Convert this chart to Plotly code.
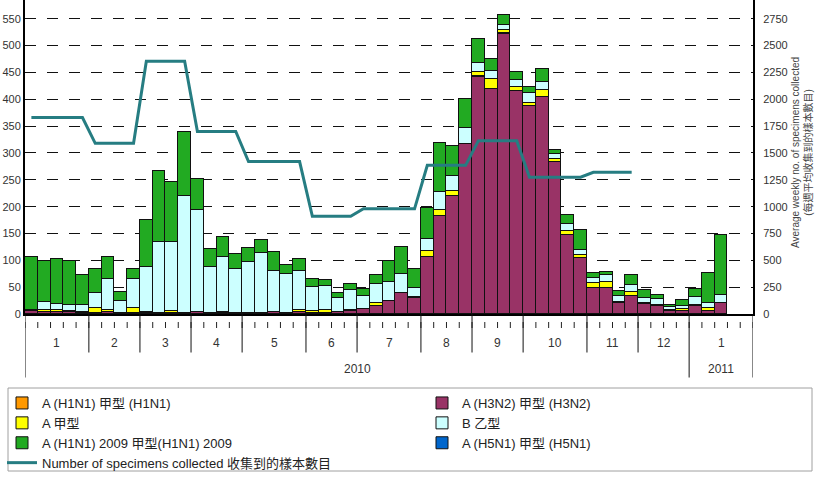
import plotly.graph_objects as go

# ---------------- data ----------------
weeks = list(range(1, 56))  # week slots with data (2010 wk1 .. 2011 wk3)

h3n2 = [5, 3, 3, 3, 2, 2, 3, 2, 2, 1, 1, 1, 1, 3, 2, 1, 2, 2, 2, 3, 1, 3, 2, 2, 3, 6, 10,
        14, 25, 40, 29, 107, 182, 219, 316, 442, 419, 521, 416, 388, 404, 284, 148, 104,
        48, 48, 20, 33, 19, 15, 5, 5, 14, 6, 20]
h1n1 = [0, 0, 0, 0, 0, 0, 0, 0, 0, 0, 0, 0, 0, 0, 0, 0, 0, 0, 0, 0, 0, 0, 0, 0, 0, 0, 0,
        0, 0, 0, 0, 0, 1, 0, 0, 1, 0, 2, 0, 0, 1, 0, 0, 0, 0, 1, 0, 1, 0, 0, 0, 0, 0, 0, 0]
a_unsub = [2, 5, 4, 3, 2, 9, 4, 0, 9, 2, 1, 4, 0, 0, 0, 2, 0, 0, 0, 0, 0, 5, 3, 6, 1, 1, 0,
           6, 0, 0, 2, 11, 10, 11, 1, 7, 18, 6, 6, 6, 13, 5, 7, 6, 10, 10, 3, 7, 2, 1, 2, 4, 2, 5, 1]
flu_b = [0, 15, 11, 10, 13, 29, 59, 23, 54, 85, 133, 129, 219, 190, 85, 104, 82, 95, 111, 78,
         73, 73, 46, 45, 26, 37, 23, 35, 34, 34, 17, 22, 35, 28, 29, 18, 15, 9, 14, 17, 15, 9,
         12, 10, 9, 13, 10, 13, 9, 12, 6, 5, 15, 9, 14]
h1n1_2009 = [99, 75, 85, 82, 55, 43, 40, 16, 18, 88, 132, 112, 120, 58, 34, 36, 27, 26, 24, 34,
             18, 21, 14, 10, 9, 12, 14, 18, 39, 50, 35, 57, 91, 55, 54, 45, 24, 19, 15, 12, 23,
             8, 18, 37, 9, 7, 10, 19, 15, 8, 4, 12, 16, 56, 113]
h5n1 = [0] * 55

# average weekly number of specimens (monthly average repeated for each week, wk 1-48)
spec_weeks = list(range(1, 49))
specimens = [1830, 1830, 1830, 1830, 1830,
             1590, 1590, 1590, 1590,
             2355, 2355, 2355, 2355,
             1700, 1700, 1700, 1700,
             1420, 1420, 1420, 1420, 1420,
             910, 910, 910, 910,
             980, 980, 980, 980, 980,
             1385, 1385, 1385, 1385,
             1615, 1615, 1615, 1615,
             1275, 1275, 1275, 1275, 1275,
             1320, 1320, 1320, 1320]

month_labels = ["1", "2", "3", "4", "5", "6", "7", "8", "9", "10", "11", "12", "1"]
month_weeks = [5, 4, 4, 4, 5, 4, 5, 4, 4, 5, 4, 4, 5]
year_labels = ["2010", "2011"]
year_months = [12, 1]

left_ticks = [0, 50, 100, 150, 200, 250, 300, 350, 400, 450, 500, 550]
right_ticks = [0, 250, 500, 750, 1000, 1250, 1500, 1750, 2000, 2250, 2500, 2750]

# ---------------- styles ----------------
FONT = "Liberation Sans, Arial, Noto Sans CJK TC, sans-serif"
C_H3N2 = "#993366"
C_H1N1 = "#FF9900"
C_A = "#FFFF00"
C_B = "#CCFFFF"
C_2009 = "#22AA22"
C_H5N1 = "#0066CC"
C_LINE = "#267D82"

fig = go.Figure()

def add_bar(y, name, color, legend, rank):
    fig.add_trace(go.Bar(
        x=weeks, y=y, name=name, width=1,
        marker=dict(color=color, line=dict(color="#111111", width=1)),
        legend=legend, legendrank=rank,
        legendgroup=name,
    ))

add_bar(h3n2, "A (H3N2) 甲型 (H3N2)", C_H3N2, "legend2", 1)
add_bar(h1n1, "A (H1N1) 甲型 (H1N1)", C_H1N1, "legend", 1)
add_bar(a_unsub, "A 甲型", C_A, "legend", 2)
add_bar(flu_b, "B 乙型", C_B, "legend2", 2)
add_bar(h1n1_2009, "A (H1N1) 2009 甲型(H1N1) 2009", C_2009, "legend", 3)
add_bar(h5n1, "A (H5N1) 甲型 (H5N1)", C_H5N1, "legend2", 3)

fig.add_trace(go.Scatter(
    x=spec_weeks, y=specimens, yaxis="y2", mode="lines",
    name="Number of specimens collected 收集到的樣本數目",
    line=dict(color=C_LINE, width=3),
    legend="legend", legendrank=4, legendgroup="spec",
))

# ---------------- axis decorations ----------------
H = 314.0  # plot height in px
def py(px_below):
    return -px_below / H

shapes = []
annotations = []
n_slots = sum(month_weeks)
# weekly tick marks
for k in range(n_slots + 1):
    shapes.append(dict(type="line", xref="x", yref="paper", x0=k + 0.5, x1=k + 0.5,
                       y0=py(8), y1=py(14), line=dict(color="#222", width=1)))
# month separators and labels
bounds = [0]
for w in month_weeks:
    bounds.append(bounds[-1] + w)
year_bounds = [0]
for m in year_months:
    year_bounds.append(year_bounds[-1] + m)
year_week_bounds = [bounds[i] for i in year_bounds]
for b in bounds:
    long = b in year_week_bounds
    shapes.append(dict(type="line", xref="x", yref="paper", x0=b + 0.5, x1=b + 0.5,
                       y0=0, y1=py(63.5 if long else 38.5), line=dict(color="#111", width=1)))
for i, lab in enumerate(month_labels):
    annotations.append(dict(x=(bounds[i] + bounds[i + 1]) / 2 + 0.5, y=py(29), xref="x", yref="paper",
                            text=lab, showarrow=False, font=dict(size=12, color="#333", family=FONT),
                            yanchor="middle"))
for i, lab in enumerate(year_labels):
    b0 = year_week_bounds[i]
    b1 = year_week_bounds[i + 1]
    annotations.append(dict(x=(b0 + b1) / 2 + 0.5, y=py(55), xref="x", yref="paper",
                            text=lab, showarrow=False, font=dict(size=12, color="#333", family=FONT),
                            yanchor="middle"))

# right axis title
annotations.append(dict(x=(802 - 25) / 728, y=1 - 153 / H, xref="paper", yref="paper",
                        xanchor="center", yanchor="middle",
                        text="Average weekly no. of specimens collected<br>(每週平均收集到的樣本數目)",
                        textangle=-90, showarrow=False,
                        font=dict(size=10, color="#444", family=FONT)))

# legend frame
shapes.append(dict(type="rect", xref="paper", yref="paper",
                   x0=(8 - 25) / 728, x1=(812 - 25) / 728, y0=py(74), y1=py(157),
                   line=dict(color="#A0A0A0", width=1), fillcolor="rgba(0,0,0,0)"))

legend_common = dict(orientation="v", traceorder="normal", bgcolor="rgba(0,0,0,0)",
                     font=dict(size=13, color="#222", family=FONT), yanchor="top",
                     xanchor="left", tracegroupgap=0, itemclick=False, itemdoubleclick=False)

fig.update_layout(
    width=830, height=480,
    margin=dict(l=25, r=77, t=0, b=166, autoexpand=False),
    paper_bgcolor="white", plot_bgcolor="white",
    barmode="stack", bargap=0,
    font=dict(family=FONT, size=11, color="#333"),
    xaxis=dict(range=[0.5, n_slots + 0.5], showticklabels=False, ticks="", showgrid=False,
               zeroline=False, showline=True, linecolor="#000", linewidth=2, fixedrange=True,
               automargin=False),
    yaxis=dict(range=[0, 585], tickvals=left_ticks, ticks="", showgrid=True,
               gridcolor="#111", griddash="11px,11px", gridwidth=1, zeroline=False,
               showline=True, linecolor="#000", linewidth=2, automargin=False,
               tickfont=dict(size=11, color="#333")),
    yaxis2=dict(range=[0, 2925], tickvals=right_ticks, overlaying="y", side="right",
                ticks="", showgrid=False, zeroline=False, showline=True, linecolor="#000",
                linewidth=2, ticklabelstandoff=6, automargin=False,
                tickfont=dict(size=11, color="#333")),
    legend=dict(x=(2 - 25) / 728, y=py(74), **legend_common),
    legend2=dict(x=(422 - 25) / 728, y=py(74), **legend_common),
    shapes=shapes,
    annotations=annotations,
)

fig.write_html("out.html", config={"displayModeBar": False},
               post_script="document.body.style.margin='0px';")
